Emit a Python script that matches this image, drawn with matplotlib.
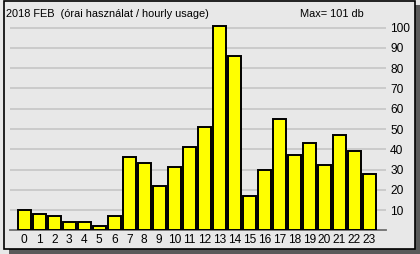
import matplotlib
matplotlib.use("Agg")
import matplotlib.pyplot as plt
from matplotlib.patches import Rectangle

hours = list(range(24))
values = [10, 8, 7, 4, 4, 2, 7, 36, 33, 22, 31, 41, 51, 101, 86, 17, 30, 55, 37, 43, 32, 47, 39, 28]
y_ticks = [10, 20, 30, 40, 50, 60, 70, 80, 90, 100]
title = "2018 FEB  (órai használat / hourly usage)"
max_text = "Max= 101 db"

plt.rcParams['font.family'] = ['Liberation Sans', 'DejaVu Sans']

W, H = 420, 254
dpi = 100
fig = plt.figure(figsize=(W / dpi, H / dpi), dpi=dpi)
fig.patch.set_facecolor('#E8E8E8')

def px(x, y, w, h):
    return (x / W, 1 - (y + h) / H, w / W, h / H)

sx, sy, sw, sh = px(9, 5, 411, 249)
fig.patches.append(Rectangle((sx, sy), sw, sh, transform=fig.transFigure,
                             facecolor='#5A5A5A', edgecolor='none', zorder=0))
px0, py0, pw, ph = px(4, 0.5, 411, 248)
fig.patches.append(Rectangle((px0, py0), pw, ph, transform=fig.transFigure,
                             facecolor='#E8E8E8', edgecolor='black', linewidth=1.2, zorder=0.5))

ax_left, ax_right = 10, 386
ax_top, ax_bottom = 20, 230.3
ppu = 2.026
ax = fig.add_axes(px(ax_left, ax_top, ax_right - ax_left, ax_bottom - ax_top))
ax.set_zorder(2)
ax.set_facecolor('none')
ax.set_xlim((ax_left - 24.3) / 15, (ax_right - 24.3) / 15)
ax.set_ylim(0, (ax_bottom - ax_top) / ppu)

for t in y_ticks:
    ax.axhline(t, color='#C8C8C8', linewidth=1.3, zorder=1)

ax.bar(hours, values, width=0.83, color='#FFFF00', edgecolor='black', linewidth=1.4, zorder=3)

for s in ['top', 'left', 'right']:
    ax.spines[s].set_visible(False)
ax.spines['bottom'].set_color('#707070')
ax.spines['bottom'].set_linewidth(1.3)

ax.set_xticks(hours)
ax.set_xticklabels([str(h) for h in hours], fontsize=8.6)
ax.tick_params(axis='x', length=0, pad=2.5)
ax.yaxis.tick_right()
ax.set_yticks(y_ticks)
ax.set_yticklabels([str(t) for t in y_ticks], fontsize=8.6)
ax.tick_params(axis='y', length=0, pad=3)

fig.text(6 / W, 1 - 14 / H, title, fontsize=7.9, ha='left', va='center', zorder=3)
fig.text(300 / W, 1 - 14 / H, max_text, fontsize=7.9, ha='left', va='center', zorder=3)

fig.savefig('out.png', dpi=dpi, facecolor=fig.get_facecolor())
